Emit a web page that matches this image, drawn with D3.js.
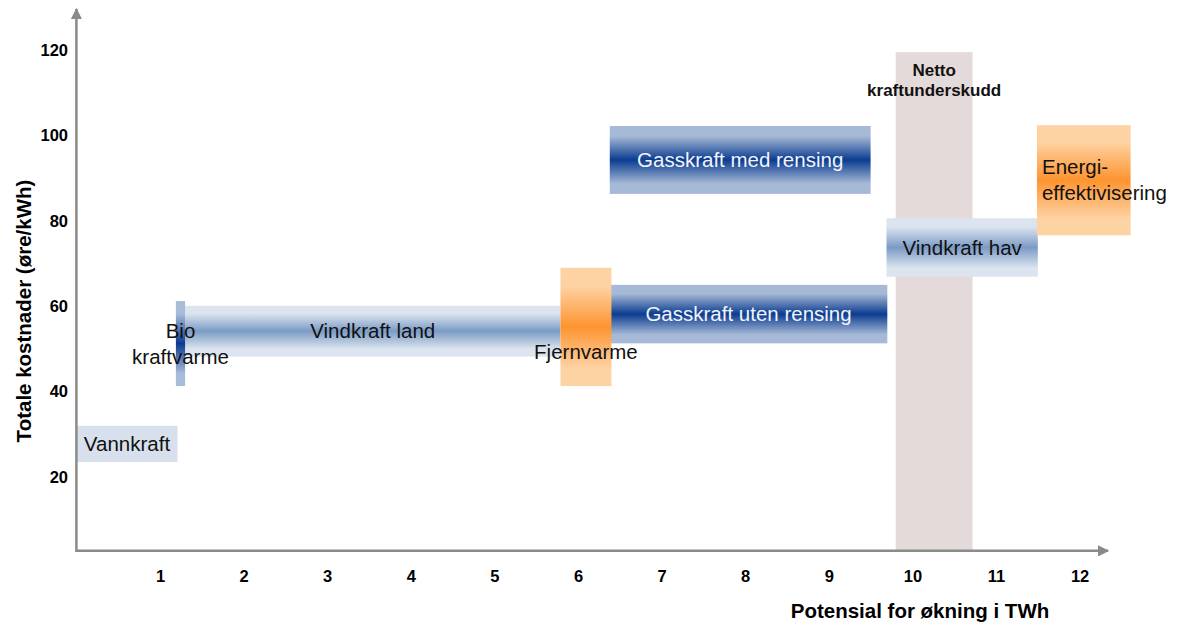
<!DOCTYPE html>
<html>
<head>
<meta charset="utf-8">
<script src="https://cdn.jsdelivr.net/npm/d3@7"></script>
<style>
  html, body { margin: 0; padding: 0; background: #fff; }
  svg { display: block; font-family: "Liberation Sans", Arial, Helvetica, sans-serif; }
</style>
</head>
<body>
<svg id="chart" width="1180" height="628"></svg>
<script>
// Cost (øre/kWh) versus increase potential (TWh) for each power source
const sources   = ["Netto kraftunderskudd", "Vannkraft", "Vindkraft land", "Bio kraftvarme",
                   "Gasskraft uten rensing", "Gasskraft med rensing", "Fjernvarme",
                   "Vindkraft hav", "Energieffektivisering"];
const twhFrom   = [9.8, 0.0, 1.3, 1.19, 6.38, 6.38, 5.79, 9.69, 11.49];
const twhTo     = [10.72, 1.21, 5.79, 1.30, 9.70, 9.50, 6.40, 11.50, 12.61];
const costLow   = [2.7, 23.5, 48.2, 41.3, 51.3, 86.3, 41.3, 66.9, 76.6];
const costHigh  = [119.5, 32.0, 60.1, 61.2, 65.0, 102.2, 69.0, 80.6, 102.4];
const labelLines = [["Netto", "kraftunderskudd"], ["Vannkraft"], ["Vindkraft land"], ["Bio", "kraftvarme"],
                    ["Gasskraft uten rensing"], ["Gasskraft med rensing"], ["Fjernvarme"],
                    ["Vindkraft hav"], ["Energi-", "effektivisering"]];
const xTicks = [1, 2, 3, 4, 5, 6, 7, 8, 9, 10, 11, 12];
const yTicks = [20, 40, 60, 80, 100, 120];
const xTitle = "Potensial for økning i TWh";
const yTitle = "Totale kostnader (øre/kWh)";

const svg = d3.select("#chart");

const x = d3.scaleLinear().domain([0, 12]).range([76.4, 1079.6]);
const y = d3.scaleLinear().domain([20, 120]).range([477, 50]);
const yFloor = 2.7;

// Fill styles: each bar gets a vertical gradient (or flat fill)
const styleOf = {
  "Netto kraftunderskudd": { flat: "#e5dada" },
  "Vannkraft":             { flat: "#d7e0ec" },
  "Vindkraft land":        { edge: "#dce4ef", mid: "#7b9bc5" },
  "Bio kraftvarme":        { edge: "#a8bbd8", mid: "#0a3a8f" },
  "Gasskraft uten rensing":{ edge: "#a6b9d6", mid: "#0b3c90", text: "#f2f4f8" },
  "Gasskraft med rensing": { edge: "#a6b9d6", mid: "#0b3c90", text: "#f2f4f8" },
  "Fjernvarme":            { edge: "#fed3a4", mid: "#fd9430" },
  "Vindkraft hav":         { edge: "#dce4ef", mid: "#7b9bc5" },
  "Energieffektivisering": { edge: "#fed3a4", mid: "#fd9430" }
};

const defs = svg.append("defs");
sources.forEach((s, i) => {
  const st = styleOf[s];
  if (st.flat) return;
  const g = defs.append("linearGradient")
    .attr("id", "grad" + i).attr("x1", 0).attr("y1", 0).attr("x2", 0).attr("y2", 1);
  [[0, st.edge], [0.15, st.edge], [0.5, st.mid], [0.85, st.edge], [1, st.edge]].forEach(([o, c]) =>
    g.append("stop").attr("offset", o).attr("stop-color", c));
});

// Arrow markers for the axes
const arrowColor = "#8a8a8a";
defs.append("marker").attr("id", "arrow").attr("viewBox", "0 0 10 10")
  .attr("refX", 9).attr("refY", 5).attr("markerWidth", 4.5).attr("markerHeight", 4.5)
  .attr("markerUnits", "strokeWidth").attr("orient", "auto")
  .append("path").attr("d", "M0,0 L10,5 L0,10 Z").attr("fill", arrowColor);

// Bars
const order = [0, 1, 2, 4, 5, 7, 8, 6, 3];
svg.append("g").selectAll("rect").data(order).join("rect")
  .attr("x", i => x(twhFrom[i]))
  .attr("y", i => y(costHigh[i]))
  .attr("width", i => x(twhTo[i]) - x(twhFrom[i]))
  .attr("height", i => y(costLow[i]) - y(costHigh[i]))
  .attr("fill", i => styleOf[sources[i]].flat || `url(#grad${i})`);

// Axes
svg.append("line").attr("x1", x(0)).attr("x2", 1108).attr("y1", y(yFloor)).attr("y2", y(yFloor))
  .attr("stroke", arrowColor).attr("stroke-width", 2.5).attr("marker-end", "url(#arrow)");
svg.append("line").attr("x1", x(0)).attr("x2", x(0)).attr("y1", y(yFloor) + 1.25).attr("y2", 9)
  .attr("stroke", arrowColor).attr("stroke-width", 2.5).attr("marker-end", "url(#arrow)");

const tickFont = g => g.selectAll("text").attr("font-size", 16.5).attr("font-weight", "bold")
  .attr("fill", "#000").attr("font-family", "Liberation Sans, Arial, sans-serif");

const xAxis = d3.axisBottom(x).tickValues(xTicks).tickSize(0).tickPadding(0);
svg.append("g").attr("transform", `translate(0,${y(yFloor) + 19})`).call(xAxis)
  .call(g => g.select(".domain").remove()).call(tickFont);

const yAxis = d3.axisLeft(y).tickValues(yTicks).tickSize(0).tickPadding(0);
svg.append("g").attr("transform", `translate(68,0)`).call(yAxis)
  .call(g => g.select(".domain").remove()).call(tickFont);

svg.append("text").attr("x", 920).attr("y", 618).attr("text-anchor", "middle")
  .attr("font-size", 20.5).attr("font-weight", "bold").text(xTitle);
svg.append("text").attr("transform", "translate(31,311) rotate(-90)").attr("text-anchor", "middle")
  .attr("font-size", 20.5).attr("font-weight", "bold").text(yTitle);

// Bar labels: placement relative to each bar
const labelPlace = {
  "Netto kraftunderskudd": { anchor: "middle", dx: 0, top: 70, gap: 20, size: 17, bold: true },
  "Bio kraftvarme":        { anchor: "middle", dx: 0, dy: -13, gap: 26 },
  "Fjernvarme":            { anchor: "middle", dx: 0, dy: 25 },
  "Energieffektivisering": { anchor: "start", left: 5, dy: -13, gap: 26 }
};
sources.forEach((s, i) => {
  const p = labelPlace[s] || { anchor: "middle", dx: 0, dy: 0 };
  const cx = p.anchor === "start" ? x(twhFrom[i]) + p.left : (x(twhFrom[i]) + x(twhTo[i])) / 2 + (p.dx || 0);
  const cy = (y(costLow[i]) + y(costHigh[i])) / 2 + (p.dy || 0);
  const t = svg.append("text")
    .attr("text-anchor", p.anchor)
    .attr("font-size", p.size || 20.5)
    .attr("font-weight", p.bold ? "bold" : "normal")
    .attr("fill", styleOf[s].text || "#111");
  labelLines[i].forEach((line, k) => {
    const ly = p.top !== undefined ? p.top + k * p.gap : cy + k * (p.gap || 0);
    t.append("tspan").attr("x", cx).attr("y", ly).attr("dy", "0.35em").text(line);
  });
});
</script>
</body>
</html>
